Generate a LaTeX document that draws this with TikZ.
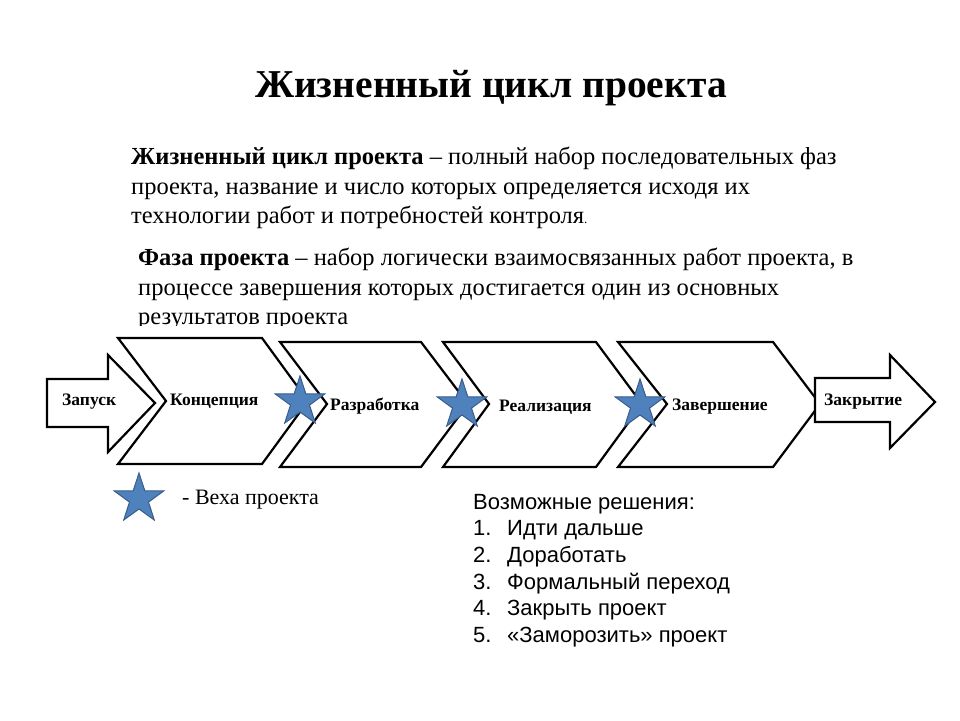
\documentclass[tikz,border=0pt]{standalone}
\usepackage{fontspec}
\setmainfont{Liberation Serif}
\newfontfamily\listafont{Liberation Sans}
\usetikzlibrary{shapes.geometric}
\definecolor{Azul}{RGB}{79, 129, 189}
\definecolor{AzulBorde}{RGB}{56, 93, 138}

\tikzset{
  fase/.style={draw=black, line width=2.2pt, fill=white, line join=miter},
  etiqueta/.style={font=\bfseries\fontsize{17.5}{19}\selectfont, inner sep=0pt, anchor=west},
  hito/.style={star, star points=5, star point ratio=2.6, fill=Azul, draw=AzulBorde,
    line width=1pt, minimum size=52pt, inner sep=0pt},
}

\begin{document}
\begin{tikzpicture}[x=1pt, y=-1pt]
    \useasboundingbox (0,0) rectangle (960,720);

    %Titulo
    \node (titulo) at (491,88) {\bfseries\fontsize{39.5}{44}\selectfont Жизненный цикл проекта};

    %Definiciones
    \node[anchor=north west, inner sep=0pt, align=left, font=\fontsize{24.5}{29.5}\selectfont]
      (ciclo) at (131,147) {\textbf{Жизненный цикл проекта} -- полный набор последовательных фаз\\
      проекта, название и число которых определяется исходя их\\
      технологии работ и потребностей контроля{\fontsize{13}{13}\selectfont.}};
    % La ultima linea queda cortada por arriba de las fases
    \begin{scope}
      \clip (0,0) rectangle (960,325);
      \node[anchor=north west, inner sep=0pt, align=left, font=\fontsize{24.5}{29.5}\selectfont]
        (fase) at (138,248) {\textbf{Фаза проекта} -- набор логически взаимосвязанных работ проекта, в\\
        процессе завершения которых достигается один из основных\\
        результатов проекта};
    \end{scope}

    %Flecha de entrada
    \draw[fase] (47,379) -- (108,379) -- (108,355) -- (155,403) -- (108,452) -- (108,427) -- (47,427) -- cycle;
    \node[etiqueta] (zapusk) at (62,402) {Запуск};

    %Fases
    \draw[fase] (118,338) -- (262,338) -- (308,401) -- (262,464) -- (118,464) -- (166,401) -- cycle;
    \draw[fase] (280,342) -- (421,342) -- (468,404) -- (421,467) -- (280,467) -- (327,404) -- cycle;
    \draw[fase] (443,342) -- (596,342) -- (642,404) -- (596,467) -- (443,467) -- (489,404) -- cycle;
    \draw[fase] (618,342) -- (773,342) -- (820,404) -- (773,467) -- (618,467) -- (667,404) -- cycle;
    \node[etiqueta] (koncepciya) at (170,401) {Концепция};
    \node[etiqueta] (razrabotka) at (330,406) {Разработка};
    \node[etiqueta] (realizaciya) at (499,407) {Реализация};
    \node[etiqueta] (zavershenie) at (672,407) {Завершение};

    %Flecha de salida
    \draw[fase] (815,378) -- (890,378) -- (890,355) -- (935,402) -- (890,448) -- (890,422) -- (815,422) -- cycle;
    \node[etiqueta] (zakrytie) at (824,402) {Закрытие};

    %Hitos entre fases
    \node[hito] (hito1) at (300,402) {};
    \node[hito] (hito2) at (462,405) {};
    \node[hito] (hito3) at (640,405) {};

    %Leyenda
    \node[hito] (hitoley) at (139,499) {};
    \node[anchor=west, inner sep=0pt, font=\fontsize{22}{24}\selectfont] (ley) at (182,500) {- Веха проекта};

    %Posibles decisiones
    \node[anchor=north west, inner sep=0pt, align=left, font=\listafont\fontsize{22}{26.6}\selectfont]
      (decisiones) at (473,494) {Возможные решения:\\
      \makebox[34pt][l]{1.}Идти дальше\\
      \makebox[34pt][l]{2.}Доработать\\
      \makebox[34pt][l]{3.}Формальный переход\\
      \makebox[34pt][l]{4.}Закрыть проект\\
      \makebox[34pt][l]{5.}«Заморозить» проект};
\end{tikzpicture}
\end{document}
